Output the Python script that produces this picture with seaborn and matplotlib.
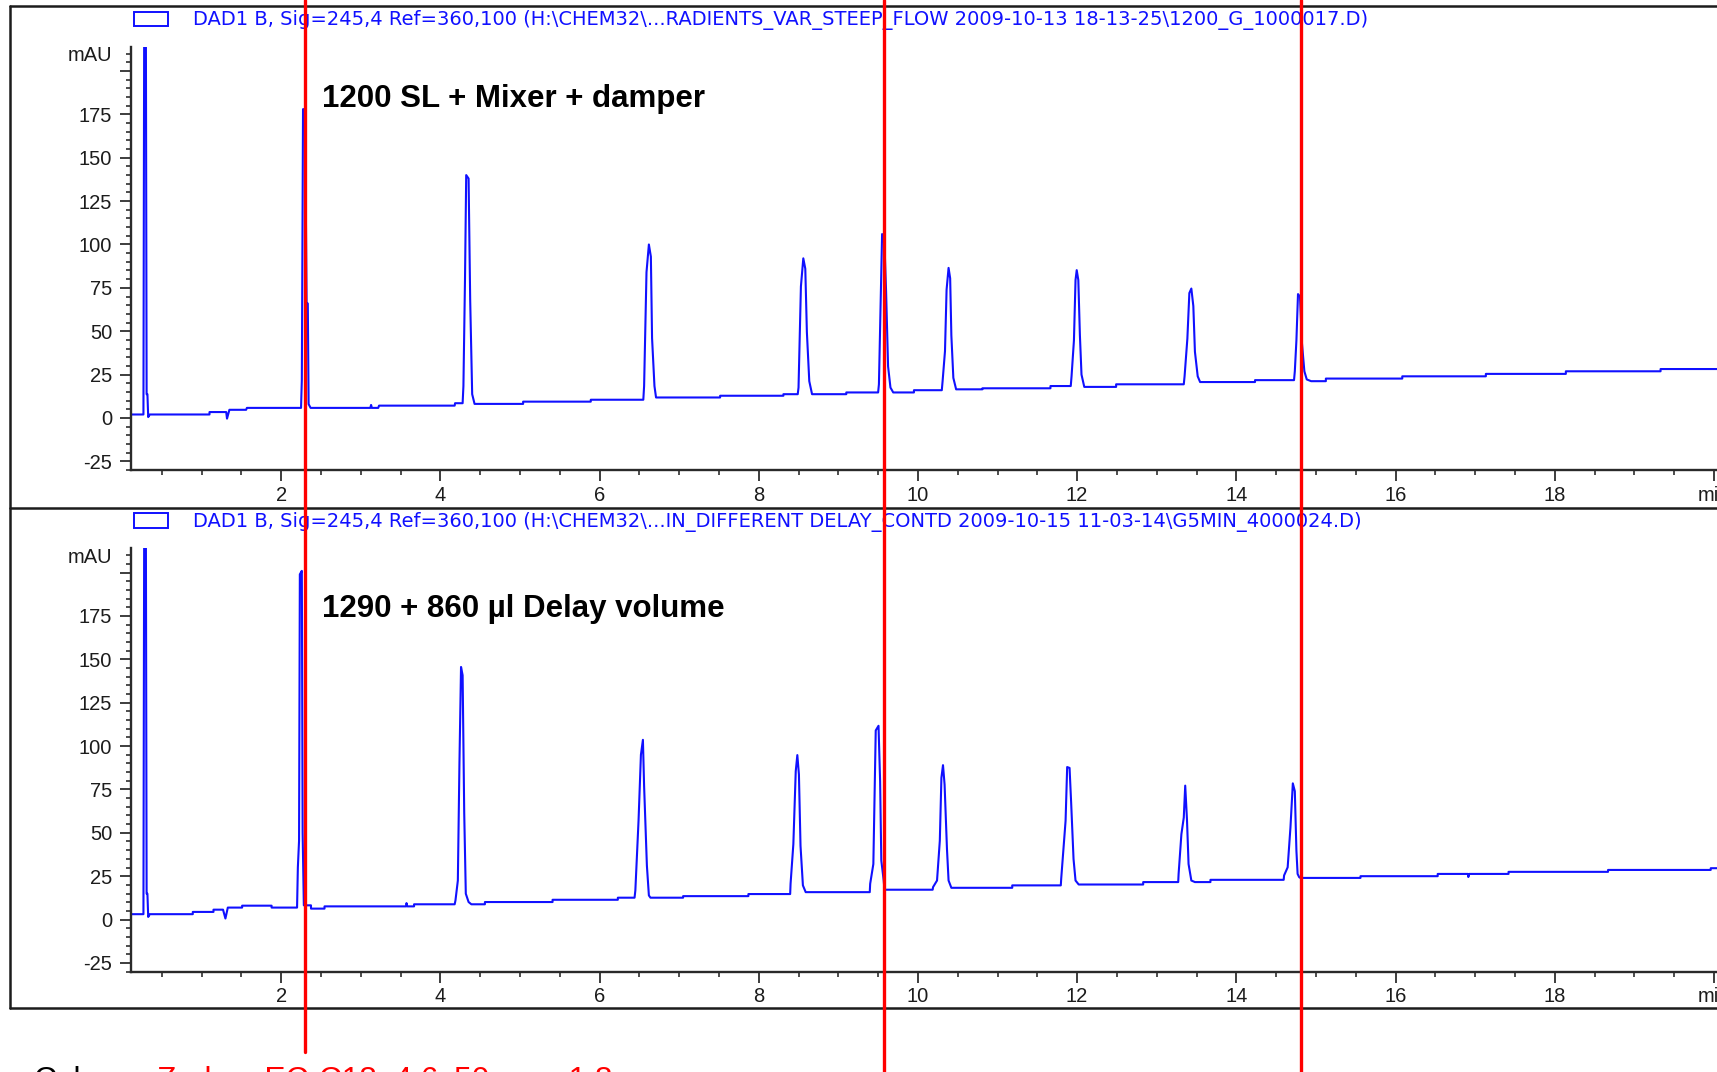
import matplotlib
matplotlib.use("Agg")
import matplotlib.pyplot as plt
import matplotlib.transforms as mtransforms
from matplotlib.lines import Line2D
from matplotlib.patches import Rectangle
from matplotlib.ticker import MultipleLocator, FixedLocator, FixedFormatter
import pandas as pd
import seaborn as sns

# ---------------------------------------------------------------- data
# Chromatogram vertices (retention time in min, absorbance in mAU)
trace_1200 = [
    (0.11, 2.0), (0.27, 2.0), (0.28, 240), (0.30, 240), (0.31, 13.7), (0.32, 13.7), (0.33, 0.5), (0.35, 2.0),
    (1.10, 2.0), (1.10, 3.4), (1.31, 3.4), (1.32, -0.4), (1.35, 4.7), (1.56, 4.7), (1.57, 5.8),
    (2.25, 5.8), (2.26, 21.8), (2.275, 178), (2.30, 178), (2.32, 66), (2.335, 66), (2.345, 8.0), (2.37, 5.8),
    (3.12, 5.8), (3.13, 7.5), (3.14, 5.8), (3.22, 5.8), (3.23, 7.1), (4.18, 7.1), (4.185, 8.5), (4.28, 8.5),
    (4.29, 18.4), (4.31, 80.5), (4.325, 140), (4.355, 138), (4.375, 68), (4.40, 13.7), (4.43, 8.1),
    (5.04, 8.1), (5.04, 9.4), (5.89, 9.4), (5.89, 10.5), (6.55, 10.5),
    (6.56, 18.4), (6.59, 84), (6.62, 100), (6.645, 93), (6.66, 46), (6.69, 18.4), (6.71, 11.8),
    (7.515, 11.8), (7.515, 12.8), (8.31, 12.8), (8.31, 13.7), (8.49, 13.7),
    (8.50, 17.5), (8.53, 75.8), (8.56, 92), (8.585, 86), (8.605, 49.4), (8.635, 21.2), (8.67, 13.7),
    (9.10, 13.7), (9.10, 14.7), (9.50, 14.7),
    (9.51, 19.4), (9.53, 63.5), (9.55, 106), (9.58, 100), (9.60, 73), (9.625, 29.7), (9.655, 17.5), (9.69, 14.7),
    (9.95, 14.7), (9.95, 16.0), (10.30, 16.0),
    (10.31, 21.2), (10.34, 38.5), (10.36, 73.9), (10.385, 86.5), (10.405, 80.5), (10.42, 47.6), (10.445, 23.1), (10.48, 16.5),
    (10.81, 16.5), (10.81, 17.1), (11.665, 17.1), (11.665, 18.4), (11.92, 18.4),
    (11.93, 24), (11.96, 44.7), (11.98, 79.5), (11.995, 85.2), (12.015, 79.5), (12.035, 47.6), (12.055, 25), (12.09, 17.9),
    (12.49, 17.9), (12.49, 19.4), (13.34, 19.4),
    (13.35, 24), (13.385, 45.7), (13.41, 72), (13.435, 74.6), (13.46, 64.5), (13.48, 38.2), (13.515, 24), (13.545, 20.7),
    (14.235, 20.7), (14.235, 21.8), (14.725, 21.8),
    (14.735, 26.9), (14.755, 44.7), (14.775, 71.4), (14.80, 70), (14.825, 42.9), (14.855, 26.9), (14.885, 22.2), (14.94, 21.2),
    (15.125, 21.2), (15.125, 22.7), (16.085, 22.7), (16.085, 24.0), (17.135, 24.0), (17.135, 25.4),
    (18.14, 25.4), (18.14, 26.9), (19.33, 26.9), (19.33, 28.2), (20.5, 28.2),
]

trace_1290 = [
    (0.11, 3.1), (0.27, 3.1), (0.28, 240), (0.30, 240), (0.31, 14.9), (0.32, 14.9), (0.33, 1.5), (0.35, 3.1),
    (0.89, 3.1), (0.89, 4.4), (1.15, 4.4), (1.15, 5.7), (1.27, 5.7), (1.30, 0.6), (1.33, 6.9), (1.51, 6.9),
    (1.51, 8.0), (1.88, 8.0), (1.88, 6.9), (2.20, 6.9),
    (2.21, 30), (2.225, 45.4), (2.235, 199), (2.26, 201), (2.27, 50), (2.285, 8.2),
    (2.375, 8.2), (2.375, 6.3), (2.545, 6.3), (2.545, 7.6), (3.57, 7.6), (3.575, 9.5), (3.585, 7.6),
    (3.67, 7.6), (3.67, 8.8), (4.18, 8.8),
    (4.19, 11), (4.22, 22.5), (4.24, 90), (4.26, 145.6), (4.28, 140.8), (4.30, 61.6), (4.32, 14.9), (4.355, 10.1), (4.39, 8.8),
    (4.56, 8.8), (4.56, 10.1), (5.41, 10.1), (5.41, 11.4), (6.23, 11.4), (6.23, 12.6), (6.44, 12.6),
    (6.45, 16.8), (6.49, 56.9), (6.52, 95), (6.545, 103.6), (6.56, 76.9), (6.595, 31.1), (6.62, 13.9), (6.64, 12.6),
    (7.05, 12.6), (7.05, 13.5), (7.87, 13.5), (7.87, 14.7), (8.395, 14.7),
    (8.40, 20.6), (8.435, 43.5), (8.465, 85.5), (8.485, 94.8), (8.505, 83.6), (8.525, 42.5), (8.555, 19.7), (8.59, 15.8),
    (9.395, 15.8),
    (9.40, 20.6), (9.44, 32), (9.47, 109), (9.505, 111.7), (9.525, 79.8), (9.54, 34), (9.57, 22.5), (9.58, 17.2),
    (10.185, 17.2),
    (10.19, 18.7), (10.24, 22.5), (10.275, 45.4), (10.295, 81.7), (10.315, 89), (10.335, 77.8), (10.365, 40.6),
    (10.385, 22.5), (10.42, 18.3),
    (11.185, 18.3), (11.185, 19.7), (11.795, 19.7),
    (11.80, 23.5), (11.855, 56.9), (11.875, 87.9), (11.905, 87.4), (11.925, 67.4), (11.955, 34.9), (11.98, 22.5), (12.02, 20.2),
    (12.83, 20.2), (12.83, 21.6), (13.27, 21.6),
    (13.275, 26.3), (13.31, 49.2), (13.34, 58.8), (13.358, 77.2), (13.38, 57.8), (13.40, 32), (13.435, 22.5), (13.48, 21.6),
    (13.675, 21.6), (13.675, 22.9), (14.595, 22.9),
    (14.60, 25.4), (14.645, 30.1), (14.68, 53), (14.71, 78.5), (14.735, 74), (14.755, 39.7), (14.77, 26.3),
    (14.79, 24.4), (14.805, 24.0),
    (15.56, 24.0), (15.56, 25.0), (16.53, 25.0), (16.53, 26.3), (16.91, 26.3), (16.915, 24.5), (16.925, 26.3),
    (17.42, 26.3), (17.42, 27.5), (18.67, 27.5), (18.67, 28.6), (19.96, 28.6), (19.96, 29.6), (20.5, 29.6),
]

headers = [
    r"DAD1 B, Sig=245,4 Ref=360,100 (H:\CHEM32\...RADIENTS_VAR_STEEP_FLOW 2009-10-13 18-13-25\1200_G_1000017.D)",
    r"DAD1 B, Sig=245,4 Ref=360,100 (H:\CHEM32\...IN_DIFFERENT DELAY_CONTD 2009-10-15 11-03-14\G5MIN_4000024.D)",
]
panel_titles = ["1200 SL + Mixer + damper", "1290 + 860 µl Delay volume"]
marker_times = [2.30, 9.58, 14.81]
y_ticks = [-25, 0, 25, 50, 75, 100, 125, 150, 175, 200]
y_labels = ["-25", "0", "25", "50", "75", "100", "125", "150", "175", ""]
x_ticks = [2, 4, 6, 8, 10, 12, 14, 16, 18, 20]
x_labels = ["2", "4", "6", "8", "10", "12", "14", "16", "18", "min"]
column_label = "Column:"
column_text = "Zorbax EC-C18, 4.6x50 mm, 1.8 µm"

# ---------------------------------------------------------------- style
sns.set_theme(style="ticks")
plt.rcParams["font.family"] = ["Liberation Sans", "DejaVu Sans"]

BLUE = "#1010ff"
INK = "#1c1c1c"
W, H = 1717, 1072
fig = plt.figure(figsize=(W / 100, H / 100), dpi=100, facecolor="white")


def px_rect(left, top, right, bottom):
    return [left / W, 1 - bottom / H, (right - left) / W, (bottom - top) / H]


def fy(y):
    return 1 - y / H


panel_shift = 501.6
axes = []
for i, (trace, header, title) in enumerate(zip([trace_1200, trace_1290], headers, panel_titles)):
    dy = i * panel_shift
    ax = fig.add_axes(px_rect(130.7, 46.7 + dy, 1753.7, 470 + dy))
    df = pd.DataFrame(trace, columns=["time", "mAU"])
    sns.lineplot(data=df, x="time", y="mAU", sort=False, estimator=None,
                 color=BLUE, linewidth=1.5, ax=ax, legend=False)
    ax.set_xlim(0.11, 20.5)
    ax.set_ylim(-30, 214)
    ax.set_xlabel("")
    ax.set_ylabel("")
    ax.set_facecolor("white")
    for side in ("top", "right"):
        ax.spines[side].set_visible(False)
    for side in ("left", "bottom"):
        ax.spines[side].set_color("#2a2a2a")
        ax.spines[side].set_linewidth(1.7)
    ax.yaxis.set_major_locator(FixedLocator(y_ticks))
    ax.yaxis.set_major_formatter(FixedFormatter(y_labels))
    ax.yaxis.set_minor_locator(MultipleLocator(5))
    ax.xaxis.set_major_locator(FixedLocator(x_ticks))
    ax.xaxis.set_major_formatter(FixedFormatter(x_labels))
    ax.xaxis.set_minor_locator(MultipleLocator(0.5))
    ax.tick_params(which="major", direction="out", length=7.7, width=1.2, color=INK,
                   labelsize=14.5, labelcolor=INK)
    ax.tick_params(axis="y", which="major", pad=5.5)
    ax.tick_params(axis="x", which="major", pad=3.5)
    ax.tick_params(which="minor", direction="out", length=3.6, width=1.1, color=INK)
    ax.annotate("mAU", xy=(0, 200), xycoords=("axes fraction", "data"),
                xytext=(-18.7, 15), textcoords="offset pixels",
                ha="right", va="center", fontsize=14.5, color=INK)

    # run header with its legend swatch
    fig.add_artist(Rectangle((134 / W, fy(26 + dy)), 33.7 / W, 14.3 / H, fill=False,
                             edgecolor=BLUE, linewidth=1.4, transform=fig.transFigure))
    fig.text(193 / W, fy(25 + dy), header, fontsize=14.0, color=BLUE, ha="left",
             va="baseline", family=["DejaVu Sans"])
    axes.append(ax)

fig.text(322 / W, fy(106.7), panel_titles[0], fontsize=22.5, fontweight="bold",
         color="black", ha="left", va="baseline")
fig.text(322 / W, fy(617), panel_titles[1], fontsize=22.5, fontweight="bold",
         color="black", ha="left", va="baseline")

# panel frames
frame_kw = dict(transform=fig.transFigure, color=INK, linewidth=1.8, zorder=6)
for y in (6, 6 + panel_shift, 6 + 2 * panel_shift - 1):
    fig.add_artist(Line2D([10 / W, 1.0], [fy(y), fy(y)], **frame_kw))
fig.add_artist(Line2D([10 / W, 10 / W], [fy(6), fy(6 + 2 * panel_shift - 1)], **frame_kw))

# retention-time markers crossing both traces
trans = mtransforms.blended_transform_factory(axes[0].transData, fig.transFigure)
marker_ends = [fy(1052), 0.0, 0.0]
for t, y_end in zip(marker_times, marker_ends):
    fig.add_artist(Line2D([t, t], [1.0, y_end], transform=trans, color="#ff0000",
                          linewidth=2.4, zorder=10))

# column description
fig.text(33 / W, fy(1088.7), column_label, fontsize=22.8, color="black", ha="left", va="baseline")
fig.text(157 / W, fy(1088.7), column_text, fontsize=22.8, color="#ff0000", ha="left", va="baseline")

fig.savefig("out.png", dpi=100, facecolor="white")
